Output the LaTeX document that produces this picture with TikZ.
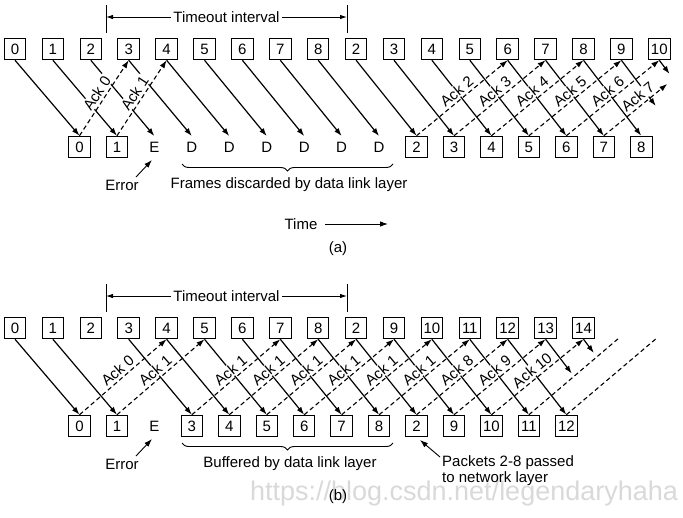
\documentclass[tikz,border=0pt]{standalone}
\usepackage{fontspec}
\setmainfont{Liberation Sans}
\usetikzlibrary{arrows.meta,calc,decorations.pathreplacing}
\begin{document}
\begin{tikzpicture}[x=1pt,y=-1pt,
  every node/.style={font=\fontsize{15}{16.5}\selectfont},
  box/.style={draw, line width=1pt, minimum width=21.5pt, minimum height=21.5pt, inner sep=0pt},
  plain/.style={minimum width=21.5pt, minimum height=21.5pt, inner sep=0pt},
  fwd/.style={line width=1.2pt,-{Latex[length=8pt,width=5.5pt]}},
  ack/.style={line width=1.1pt,dash pattern=on 4.5pt off 3pt,-{Latex[length=8pt,width=5.5pt]}},
  ackline/.style={line width=1.1pt,dash pattern=on 4.5pt off 3pt},
  acklab/.style={sloped, above=1.5pt, fill=white, inner sep=1pt},
  brc/.style={decorate, decoration={brace, mirror, amplitude=7pt}, line width=0.9pt},
  tarr/.style={line width=0.9pt,{Latex[length=7pt,width=4.5pt]}-{Latex[length=7pt,width=4.5pt]}},
  ]
\useasboundingbox (0,0) rectangle (683,517);

% watermark
\node[text=black!15, font=\fontsize{27}{30}\selectfont] (wm) at (464,494) {https://blog.csdn.net/legendaryhaha};

% ================= (a) =================
\coordinate (tla1) at (106,5); \coordinate (tla2) at (106,33);
\coordinate (tra1) at (347,5); \coordinate (tra2) at (347,33);
\draw[line width=0.9pt] (tla1) -- (tla2);
\draw[line width=0.9pt] (tra1) -- (tra2);
\draw[tarr] (106,17) -- node[fill=white, inner sep=2pt] (toa) {Timeout interval} (347,17);

\foreach \lab [count=\i from 0] in {0,1,2,3,4,5,6,7,8,2,3,4,5,6,7,8,9,10}
  \node[box] (ta\i) at ({15+37.9*\i},49) {\lab};

\foreach \j in {0,1}
  \node[box] (ba\j) at ({79.5+37.45*\j},147) {\j};
\node[plain] (ba2) at ({79.5+37.45*2},147) {E};
\foreach \j in {3,...,8}
  \node[plain] (ba\j) at ({79.5+37.45*\j},147) {D};
\foreach \j [evaluate=\j as \lab using int(\j-7)] in {9,...,15}
  \node[box] (ba\j) at ({79.5+37.45*\j},147) {\lab};

\coordinate (va16) at ({79.5+37.45*16},136.5);
\coordinate (va17) at ({79.5+37.45*17},136.5);
\coordinate (vta18) at ({15+37.9*18},59.5);

% forward frames
\foreach \i in {0,...,15}
  \draw[fwd] (ta\i.south) -- (ba\i.north);
\coordinate (fa9) at ($(ta16.south)!0.6!(va16)$);
\coordinate (fa10) at ($(ta17.south)!0.18!(va17)$);
\draw[fwd] (ta16.south) -- (fa9);
\draw[fwd] (ta17.south) -- (fa10);

% acks
\foreach \j/\i/\n in {0/3/0, 1/4/1, 9/13/2, 10/14/3, 11/15/4, 12/16/5, 13/17/6}
  \draw[ack] (ba\j.north) -- node[acklab] {Ack \n} (ta\i.south);
\coordinate (aa7) at ($(ba14.north)!0.68!(vta18)$);
\draw[ack] (ba14.north) -- node[acklab, pos=0.62] {Ack 7} (aa7);

% labels
\draw[brc] (182,164) -- (393,164);
\node (fdl) at (289,185) {Frames discarded by data link layer};
\node (erra) at (122,185) {Error};
\coordinate (erras) at (136,177);
\coordinate (errae) at (152,160);
\draw[fwd, line width=0.9pt] (erras) -- (errae);

\node (time) at (301,224) {Time};
\coordinate (tms) at (325,224); \coordinate (tme) at (388,224);
\draw[fwd, line width=0.9pt] (tms) -- (tme);
\node (capa) at (338,249) {(a)};

% ================= (b) =================
\coordinate (tlb1) at (106,284); \coordinate (tlb2) at (106,312);
\coordinate (trb1) at (347,284); \coordinate (trb2) at (347,312);
\draw[line width=0.9pt] (tlb1) -- (tlb2);
\draw[line width=0.9pt] (trb1) -- (trb2);
\draw[tarr] (106,296) -- node[fill=white, inner sep=2pt] (tob) {Timeout interval} (347,296);

\foreach \lab [count=\i from 0] in {0,1,2,3,4,5,6,7,8,2,9,10,11,12,13,14}
  \node[box] (tb\i) at ({15+37.9*\i},328) {\lab};

\foreach \j in {0,1}
  \node[box] (bb\j) at ({79.5+37.45*\j},426) {\j};
\node[plain] (bb2) at ({79.5+37.45*2},426) {E};
\foreach \lab [count=\j from 3] in {3,4,5,6,7,8,2,9,10,11,12}
  \node[box] (bb\j) at ({79.5+37.45*\j},426) {\lab};

\coordinate (vb14) at ({79.5+37.45*14},415.5);
\coordinate (vb15) at ({79.5+37.45*15},415.5);
\coordinate (vtb16) at ({15+37.9*16-3},338.5);
\coordinate (vtb17) at ({15+37.9*17-3},338.5);

\foreach \i in {0,1,3,4,5,6,7,8,9,10,11,12,13}
  \draw[fwd] (tb\i.south) -- (bb\i.north);
\coordinate (fb13) at ($(tb14.south)!0.45!(vb14)$);
\coordinate (fb14) at ($(tb15.south)!0.18!(vb15)$);
\draw[fwd] (tb14.south) -- (fb13);
\draw[fwd] (tb15.south) -- (fb14);

\foreach \j/\i/\n in {0/4/0, 1/5/1, 3/7/1, 4/8/1, 5/9/1, 6/10/1, 7/11/1, 8/12/1, 9/13/8, 10/14/9, 11/15/10}
  \draw[ack] (bb\j.north) -- node[acklab] {Ack \n} (tb\i.south);
\draw[ackline] (bb12.north) -- (vtb16);
\draw[ackline] (bb13.north) -- (vtb17);

\draw[brc] (182,443) -- (393,443);
\node (bdl) at (290,464) {Buffered by data link layer};
\node (errb) at (122,464) {Error};
\coordinate (errbs) at (136,456);
\coordinate (errbe) at (152,439);
\draw[fwd, line width=0.9pt] (errbs) -- (errbe);

\node[align=left, anchor=north west, inner sep=0pt] (pk) at (442,455) {Packets 2-8 passed\\to network layer};
\coordinate (pks) at (440,457); \coordinate (pke) at (420,440);
\draw[fwd, line width=0.9pt] (pks) -- (pke);

\node (capb) at (338,497) {(b)};
\end{tikzpicture}
\end{document}
